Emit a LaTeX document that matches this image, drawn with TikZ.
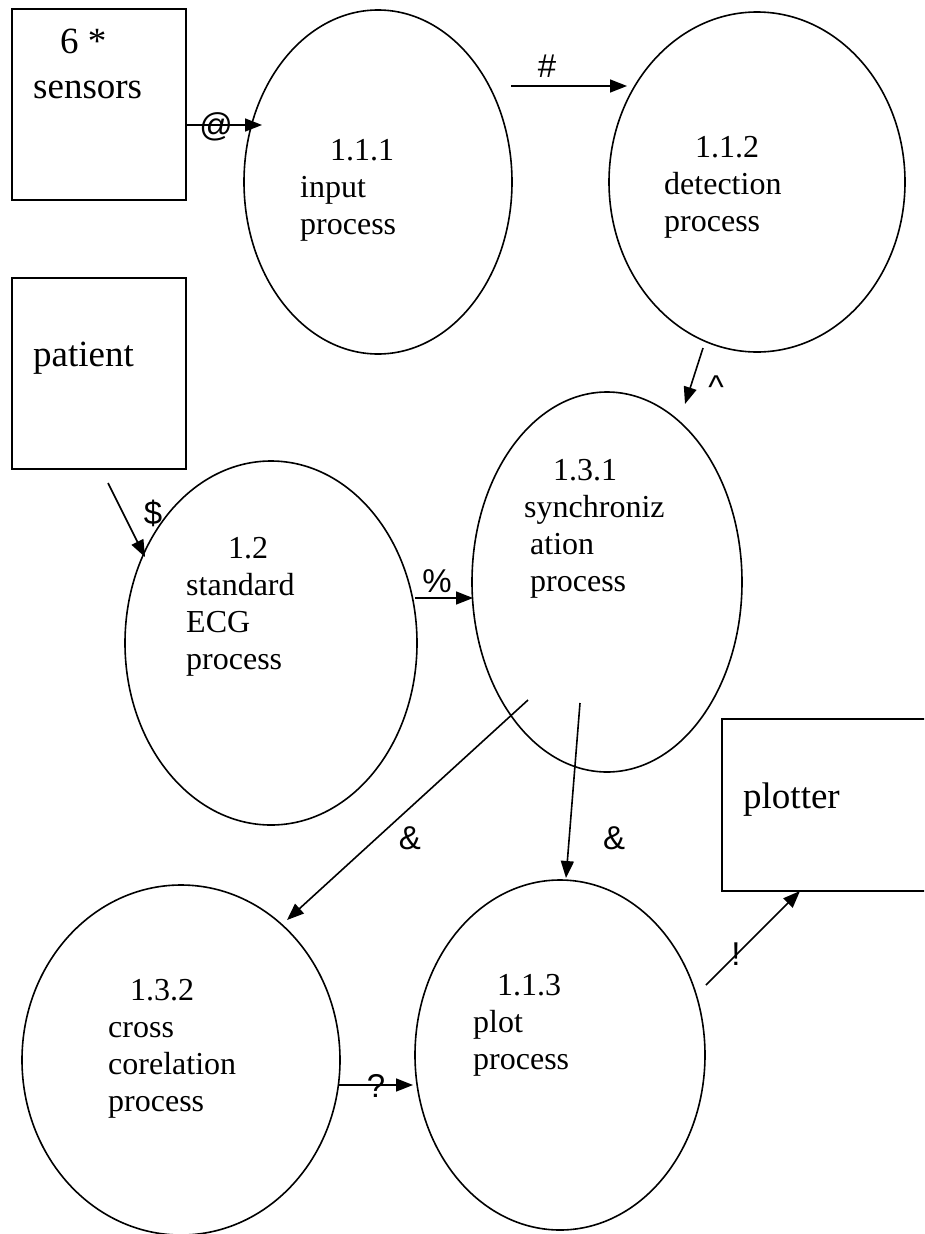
\documentclass[tikz,border=0pt]{standalone}
\usepackage{fontspec}
\setmainfont{Liberation Serif}
\newfontfamily\labelfont{Liberation Sans}
\usetikzlibrary{shapes.geometric,arrows.meta}

\begin{document}
\begin{tikzpicture}[x=1pt,y=-1pt,
  proc/.style={draw, ellipse, line width=1.6pt, inner sep=0pt},
  ext/.style={draw, rectangle, line width=1.6pt, inner sep=0pt},
  boxtxt/.style={anchor=base west, inner sep=0pt, align=left,
    font=\fontsize{37}{45}\selectfont},
  proctxt/.style={anchor=base west, inner sep=0pt, align=left,
    font=\fontsize{32}{37}\selectfont},
  lbl/.style={anchor=base, inner sep=0pt, font=\labelfont\fontsize{33}{33}\selectfont},
  flow/.style={-{Triangle[length=17pt,width=13pt]}, line width=1.6pt}]

\useasboundingbox (0,0) rectangle (924,1234);
\clip (0,0) rectangle (924,1234);

% external entities
\node[ext, minimum width=174pt, minimum height=191pt] (sensors) at (99,104.5) {};
\node[ext, minimum width=174pt, minimum height=191pt] (patient) at (99,373.5) {};
\node[ext, minimum width=222pt, minimum height=172pt] (plotter) at (833,805) {};

% entity names (anchored at the baseline of the last line)
\node[boxtxt] (sensorsT) at (33,98) {\hspace*{27pt}6 *\\sensors};
\node[boxtxt] (patientT) at (33,366) {patient};
\node[boxtxt] (plotterT) at (743,808) {plotter};

% processes
\node[proc, minimum width=268pt, minimum height=344pt] (p111) at (378,182) {};
\node[proc, minimum width=296pt, minimum height=340pt] (p112) at (757,182) {};
\node[proc, minimum width=270pt, minimum height=380pt] (p131) at (607,582) {};
\node[proc, minimum width=292pt, minimum height=364pt] (p12)  at (271,643) {};
\node[proc, minimum width=318pt, minimum height=350pt] (p132) at (181,1060) {};
\node[proc, minimum width=290pt, minimum height=350pt] (p113) at (560,1055) {};

% process names (anchored at the baseline of the last line)
\node[proctxt] (p111T) at (300,234) {\hspace*{30pt}1.1.1\\input\\process};
\node[proctxt] (p112T) at (664,231) {\hspace*{31pt}1.1.2\\detection\\process};
\node[proctxt] (p131T) at (524,591) {\hspace*{29pt}1.3.1\\synchroniz\\\hspace*{6pt}ation\\\hspace*{6pt}process};
\node[proctxt] (p12T)  at (186,669) {\hspace*{42pt}1.2\\standard\\ECG\\process};
\node[proctxt] (p132T) at (108,1111) {\hspace*{22pt}1.3.2\\cross\\corelation\\process};
\node[proctxt] (p113T) at (473,1069) {\hspace*{24pt}1.1.3\\plot\\process};

% connector end points
\coordinate (a1) at (186,125);  \coordinate (a2) at (262,125);
\coordinate (b1) at (511,86);   \coordinate (b2) at (627,86);
\coordinate (c1) at (703,348);  \coordinate (c2) at (685,404);
\coordinate (d1) at (108,483);  \coordinate (d2) at (145,557);
\coordinate (e1) at (415,598);  \coordinate (e2) at (473,598);
\coordinate (f1) at (528,700);  \coordinate (f2) at (287,920);
\coordinate (g1) at (580,703);  \coordinate (g2) at (566,878);
\coordinate (h1) at (338,1085); \coordinate (h2) at (413,1085);
\coordinate (k1) at (706,985);  \coordinate (k2) at (800,891);

% data flows
\draw[flow] (a1) -- (a2);
\draw[flow] (b1) -- (b2);
\draw[flow] (c1) -- (c2);
\draw[flow] (d1) -- (d2);
\draw[flow] (e1) -- (e2);
\draw[flow] (f1) -- (f2);
\draw[flow] (g1) -- (g2);
\draw[flow] (h1) -- (h2);
\draw[flow] (k1) -- (k2);

% flow labels
\node[lbl] (la) at (216,136) {@};
\node[lbl] (lb) at (547,77) {\#};
\node[lbl] (lc) at (716,398) {\textasciicircum};
\node[lbl] (ld) at (153,524) {\$};
\node[lbl] (le) at (437,592) {\%};
\node[lbl] (lf) at (410,849) {\&};
\node[lbl] (lg) at (614,849) {\&};
\node[lbl] (lh) at (376,1097) {?};
\node[lbl] (lk) at (736,965) {!};
\end{tikzpicture}
\end{document}
